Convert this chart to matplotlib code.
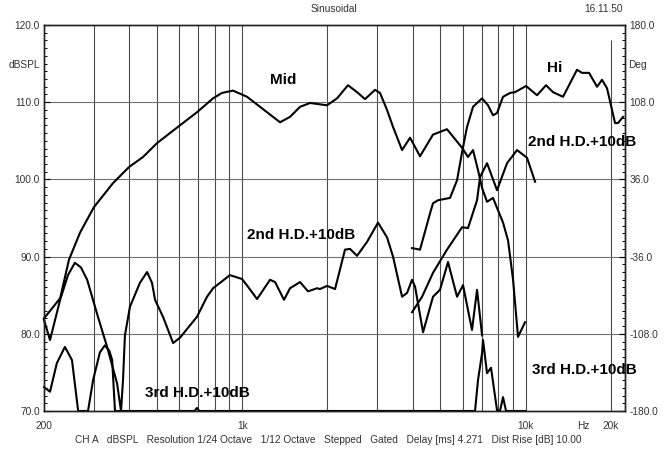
import matplotlib
matplotlib.use("Agg")
import matplotlib.pyplot as plt
from matplotlib.ticker import FixedLocator, NullLocator

plt.rcParams['font.family'] = ['Liberation Sans', 'DejaVu Sans']

# Mid fundamental (Hz, dBSPL)
mid_freq = [200, 228, 245, 268, 300, 350, 399, 447, 501, 589, 693, 790, 849, 929,
            1041, 1157, 1361, 1476, 1601, 1737, 1994, 2163, 2364, 2544, 2715, 2944, 3066,
            3246, 3408, 3668, 3914, 4244, 4716, 5284, 5971, 6268, 6528, 6798, 7026, 7315,
            7679, 8330, 8677, 9038, 9410, 9962]
mid_db = [82.0, 84.6, 89.6, 93.1, 96.4, 99.5, 101.6, 102.9, 104.7, 106.7, 108.7,
          110.5, 111.2, 111.5, 110.7, 109.4, 107.4, 108.1, 109.4, 109.9, 109.6, 110.5, 112.2,
          111.3, 110.4, 111.6, 111.2, 109.0, 106.8, 103.8, 105.4, 103.0, 105.8, 106.5, 104.1,
          102.9, 103.8, 101.2, 98.9, 97.1, 97.6, 94.4, 92.1, 87.0, 79.6, 81.5]

# Mid 2nd harmonic (+10dB)
mid2_freq = [200, 210, 228, 243, 257, 270, 284, 310, 334, 362, 374, 380, 386, 402, 436, 462,
             481, 493, 526, 571, 604, 693, 752, 790, 906, 999, 1049, 1129, 1255, 1307, 1406,
             1476, 1601, 1709, 1838, 1883, 1994, 2128, 2307, 2403, 2544, 2759, 3017, 3246,
             3408, 3668, 3820, 3978, 4077, 4350, 4716, 4993, 5328, 5734, 6019, 6474, 6745, 7026]
mid2_db = [81.8, 79.2, 84.4, 87.6, 89.2, 88.6, 87.0, 82.2, 78.3, 73.6, 70.0, 74.0, 79.8, 83.5,
           86.6, 88.0, 86.6, 84.4, 82.2, 78.8, 79.5, 82.2, 84.8, 85.9, 87.6, 87.1, 86.1, 84.5,
           87.0, 86.7, 84.4, 85.9, 86.7, 85.5, 85.9, 85.8, 86.2, 85.8, 90.9, 91.0, 90.1, 91.9,
           94.4, 92.5, 90.0, 84.8, 85.3, 87.0, 86.1, 80.2, 84.8, 85.7, 89.3, 84.8, 86.3, 80.5,
           85.7, 79.8]

# Mid 3rd harmonic (+10dB)
mid3_freq = [200, 210, 222, 237, 251, 264, 286, 298, 315, 328, 340, 348, 356, 680, 693, 706, 4000]
mid3_db = [73.1, 72.5, 76.2, 78.3, 76.6, 70.0, 70.0, 74.0, 77.6, 78.5, 77.8, 76.6, 70.0,
           70.0, 70.4, 70.0, 70.0]

# Hi fundamental
hi_freq = [3978, 4244, 4603, 4716, 4912, 5416, 5734, 5971, 6218, 6528, 7026, 7375, 7679, 7934,
           8330, 8820, 9186, 10042, 10983, 11814, 12505, 13562, 15194, 15826, 16755, 17880,
           18618, 19392, 20697, 21207, 22082]
hi_db = [91.1, 90.9, 95.6, 96.9, 97.3, 97.6, 99.9, 103.5, 106.8, 109.4, 110.5, 109.6, 108.3,
         108.6, 110.7, 111.2, 111.3, 112.1, 110.9, 112.2, 111.3, 110.7, 114.2, 113.8, 113.8,
         112.0, 112.9, 111.8, 107.3, 107.3, 108.1]

# Hi 2nd harmonic (+10dB)
hi2_freq = [3978, 4315, 4716, 5284, 5971, 6268, 6745, 6912, 7315, 7934, 8606, 9334, 10124, 10807]
hi2_db = [82.8, 84.8, 87.9, 90.9, 93.8, 93.7, 97.3, 100.3, 102.1, 98.6, 102.1, 103.8, 102.8, 99.7]

# Hi 3rd harmonic (+10dB)
hi3_freq = [3000, 6635, 6798, 7026, 7081, 7315, 7555, 7934, 8128, 8330, 8537, 9962]
hi3_db = [70.0, 70.0, 74.0, 77.5, 79.2, 74.9, 75.6, 70.1, 70.0, 71.8, 70.0, 70.0]

grid_freqs = [300, 400, 500, 600, 700, 800, 900, 1000, 2000, 3000, 4000, 5000, 6000,
              7000, 8000, 9000, 10000]
x_ticks = [200, 1000, 10000, 16000, 20000]
x_labels = ['200', '1k', '10k', 'Hz', '20k']
db_ticks = [70, 80, 90, 100, 110, 120]
deg_ticks = [-180, -108, -36, 36, 108, 180]

W, H = 667, 454
fig = plt.figure(figsize=(W / 100, H / 100), dpi=100)
ax = fig.add_axes([44 / W, 43 / H, 581 / W, 386 / H])
ax.set_xscale('log')
ax.set_xlim(200, 22440)
ax.set_ylim(70, 120)

# grid
for f in grid_freqs:
    ax.axvline(f, color='#4a4a4a', lw=0.8, zorder=1)
ax.vlines(20000, 70, 118, color='#4a4a4a', lw=0.8, zorder=1)
for d in [80, 90, 100, 110]:
    ax.axhline(d, color='#707070', lw=0.8, zorder=1)

lkw = dict(color='black', lw=1.5, zorder=3, solid_joinstyle='round', clip_on=False)
ax.plot(mid_freq, mid_db, **lkw)
ax.plot(mid2_freq, mid2_db, **lkw)
ax.plot(mid3_freq, mid3_db, **lkw)
ax.plot(hi_freq, hi_db, **lkw)
ax.plot(hi2_freq, hi2_db, **lkw)
ax.plot(hi3_freq, hi3_db, **lkw)

txtc = '#333333'
ax.set_xticks(x_ticks)
ax.set_xticklabels(x_labels)
ax.xaxis.set_minor_locator(NullLocator())
ax.tick_params(axis='x', length=0, pad=7, labelsize=7.3, labelcolor=txtc)

ax.set_yticks(db_ticks)
ax.set_yticklabels(['%.1f' % v for v in db_ticks])
ax.yaxis.set_minor_locator(FixedLocator(range(70, 121)))
ax.tick_params(axis='y', which='major', direction='in', length=4, width=0.8, pad=3,
               labelsize=7.3, labelcolor=txtc)
ax.tick_params(axis='y', which='minor', direction='in', length=2.5, width=0.7)

ax2 = ax.twinx()
ax2.set_ylim(-180, 180)
ax2.set_yticks(deg_ticks)
ax2.set_yticklabels(['%.1f' % v for v in deg_ticks])
ax2.yaxis.set_minor_locator(FixedLocator([-180 + 7.2 * i for i in range(51)]))
ax2.tick_params(axis='y', which='major', direction='in', length=4, width=0.8, pad=3,
                labelsize=7.3, labelcolor=txtc)
ax2.tick_params(axis='y', which='minor', direction='in', length=2.5, width=0.7)

for a in (ax, ax2):
    for s in a.spines.values():
        s.set_linewidth(1.0)
        s.set_color('#222222')

# axis unit labels
ax.text(-0.007, 114.8, 'dBSPL', transform=ax.get_yaxis_transform(), ha='right', va='center',
        fontsize=7.3, color=txtc)
ax.text(1.005, 114.8, 'Deg', transform=ax.get_yaxis_transform(), ha='left', va='center',
        fontsize=7.3, color=txtc)

# curve labels
bkw = dict(fontsize=11, fontweight='bold', color='black', va='center', clip_on=False, zorder=4)
ax.text(1394, 112.9, 'Mid', ha='center', **bkw)
ax.text(12700, 114.4, 'Hi', ha='center', **bkw)
ax.text(10206, 104.9, '2nd H.D.+10dB', ha='left', **bkw)
ax.text(1041, 92.8, '2nd H.D.+10dB', ha='left', **bkw)
ax.text(454, 72.3, '3rd H.D.+10dB', ha='left', **bkw)
ax.text(10540, 75.3, '3rd H.D.+10dB', ha='left', **bkw)

# header and footer
fig.text(334 / W, 1 - 9 / H, 'Sinusoidal', ha='center', va='center', fontsize=7.3, color=txtc)
fig.text(604 / W, 1 - 9 / H, '16.11.50', ha='center', va='center', fontsize=7.3, color=txtc)
fig.text(328 / W, 1 - 440 / H,
         'CH A   dBSPL   Resolution 1/24 Octave   1/12 Octave   Stepped   Gated   '
         'Delay [ms] 4.271   Dist Rise [dB] 10.00',
         ha='center', va='center', fontsize=7.3, color=txtc)

fig.savefig('out.png', dpi=100, facecolor='white')
